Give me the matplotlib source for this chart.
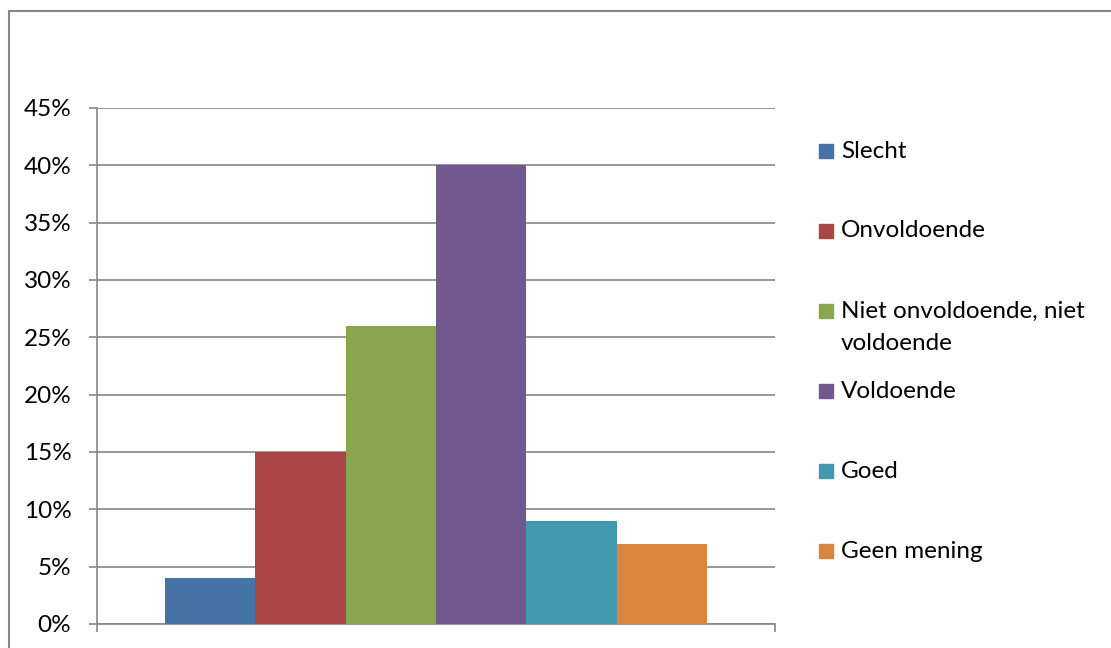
import matplotlib.pyplot as plt
from matplotlib.patches import Rectangle
from matplotlib.ticker import FuncFormatter

# Survey answers (share of respondents)
labels = ["Slecht", "Onvoldoende", "Niet onvoldoende, niet\nvoldoende",
          "Voldoende", "Goed", "Geen mening"]
values = [0.04, 0.15, 0.26, 0.40, 0.09, 0.07]
colors = ["#4672A8", "#AA4643", "#89A54E", "#71588F", "#4198AF", "#DB843D"]
yticks = [0, 0.05, 0.10, 0.15, 0.20, 0.25, 0.30, 0.35, 0.40, 0.45]

plt.rcParams['font.family'] = ['Lato', 'DejaVu Sans']
grid_color = "#868686"
fs = 17.5

fig = plt.figure(figsize=(11.11, 6.48), dpi=100)
ax = fig.add_axes([97 / 1111, 1 - 624 / 648, 678 / 1111, 516 / 648])

# Excel-style clustered bars: one category, gap width 150%
n = len(values)
w = 1 / (n + 1.5)
for i, (v, c) in enumerate(zip(values, colors)):
    x = -0.5 + 0.75 * w + i * w
    ax.bar(x, v, width=w, color=c, align='edge', zorder=3)

ax.set_xlim(-0.5, 0.5)
ax.set_ylim(0, 0.45)
ax.set_yticks(yticks)
ax.yaxis.set_major_formatter(FuncFormatter(lambda y, _: f"{round(y * 100)}%"))
ax.set_xticks([-0.5, 0.5])
ax.set_xticklabels([])
ax.grid(axis='y', color=grid_color, linewidth=1.2, zorder=0)
ax.tick_params(axis='both', direction='out', length=5.5, width=1.2, color=grid_color,
               labelsize=fs, pad=13)
for side in ['top', 'right']:
    ax.spines[side].set_visible(False)
for side in ['left', 'bottom']:
    ax.spines[side].set_color(grid_color)
    ax.spines[side].set_linewidth(1.2)

# legend drawn entry by entry so the marker sits on the first text line
y0 = 151
for i, (lab, c) in enumerate(zip(labels, colors)):
    ypix = y0 + 80 * i
    yc = 1 - ypix / 648
    fig.patches.append(Rectangle((819 / 1111, yc - 7 / 648), 14 / 1111, 14 / 648,
                                 transform=fig.transFigure, color=c))
    for k, line in enumerate(lab.split("\n")):
        fig.text(841 / 1111, 1 - (ypix + 33 * k) / 648, line, fontsize=fs,
                 va='center', ha='left')

# chart area border
fig.patches.append(Rectangle((8.5 / 1111, -0.1), 1.2, 1.1 - 11 / 648,
                             transform=fig.transFigure, fill=False,
                             edgecolor=grid_color, linewidth=1.5))

fig.savefig("out.png", dpi=100)
